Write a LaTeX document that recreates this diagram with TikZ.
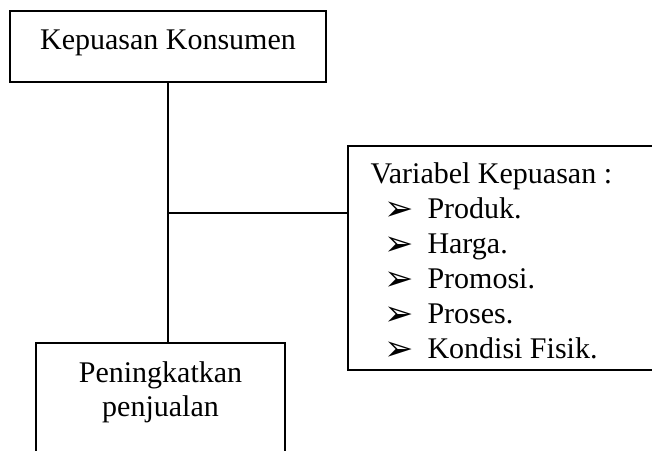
\documentclass[tikz,border=0pt]{standalone}
\usepackage{fontspec}
\setmainfont{Liberation Serif}
\newfontfamily\symfont{DejaVu Sans}
\usetikzlibrary{positioning}

\begin{document}
\begin{tikzpicture}[
  x=0.4pt, y=-0.4pt,
  box/.style={draw=black,line width=0.6pt,fill=none,inner sep=0pt},
  lbl/.style={inner sep=0pt,anchor=base,font=\fontsize{12}{13.8}\selectfont},
  item/.style={lbl,anchor=base west},
  link/.style={draw=black,line width=0.6pt}
]
\def\px{0.4pt}
\useasboundingbox (0,0) rectangle (652,451);
% boxes
\node[box,minimum width=316*\px,minimum height=71*\px]  (konsumen)  at (168,46.5) {};
\node[box,minimum width=249*\px,minimum height=140*\px] (penjualan) at (160.5,413) {};
\node[box,minimum width=330*\px,minimum height=224*\px] (variabel)  at (513,258) {};

% texts
\node[lbl] (konsumenlbl) at (168,50) {Kepuasan Konsumen};
\node[lbl] (penjualan1) at (160.5,383) {Peningkatkan};
\node[lbl] (penjualan2) at (160.5,416) {penjualan};
\node[item] (varlbl) at (370,184) {Variabel Kepuasan :};
\foreach \t [count=\i] in {Produk.,Harga.,Promosi.,Proses.,Kondisi Fisik.}{
  \node[item] (var\i) at (384,184+34.8*\i)
    {\makebox[17.2pt][l]{\raisebox{-0.8pt}{\symfont\fontsize{14}{14}\selectfont ➢}}\t};
}

% connectors
\coordinate (cab) at (168,213);
\draw[link] (konsumen.south) -- (konsumen.south |- penjualan.north);
\draw[link] (cab) -- (cab -| variabel.west);
\end{tikzpicture}
\end{document}
